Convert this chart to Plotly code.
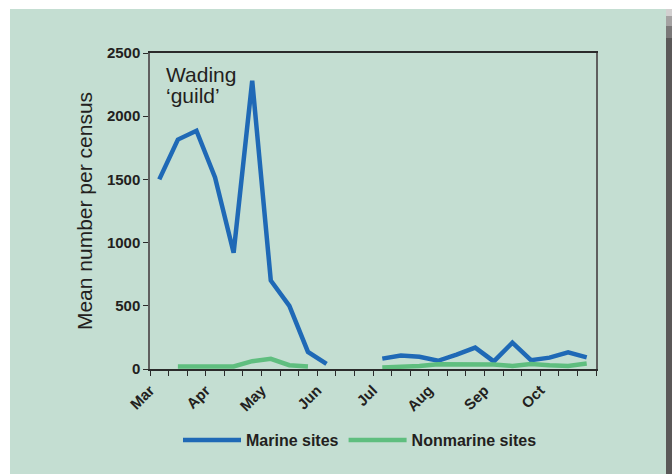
import plotly.graph_objects as go

# ---------------- data ----------------
months = ["Mar", "Apr", "May", "Jun", "Jul", "Aug", "Sep", "Oct"]
periods_per_month = 3  # census periods (≈10 days) per month
marine = [1500, 1815, 1885, 1515, 920, 2280, 700, 500, 135, 40, None, None,
          82, 107, 97, 65, 113, 169, 60, 208, 70, 90, 132, 92]
nonmarine = [None, 20, 20, 20, 20, 62, 80, 30, 20, None, None, None,
             12, 16, 24, 38, 39, 39, 36, 24, 40, 30, 24, 43]
y_ticks = [0, 500, 1000, 1500, 2000, 2500]
series_names = ["Marine sites", "Nonmarine sites"]

# ---------------- layout helpers ----------------
W, H = 672, 474
L, R, T, B = 150, 596, 53, 369  # plot area in pixels


def px(xp):
    return (xp - L) / (R - L)


def py(yp):
    return (B - yp) / (B - T)


n = len(months) * periods_per_month
x_centers = [i + 0.5 for i in range(n)]
tickvals = list(range(n + 1))
ticktext = [months[i // periods_per_month] if i % periods_per_month == 0 and i // periods_per_month < len(months) else ""
            for i in tickvals]

BLUE = "#1f69b6"
GREEN = "#5fbe7f"
BG = "#c4ded2"
AX = "#2b2b2b"
FONT = "Liberation Sans, Arial, sans-serif"

fig = go.Figure()
fig.add_trace(go.Scatter(x=x_centers, y=marine, mode="lines", name=series_names[0],
                         line=dict(color=BLUE, width=4.5), connectgaps=False))
fig.add_trace(go.Scatter(x=x_centers, y=nonmarine, mode="lines", name=series_names[1],
                         line=dict(color=GREEN, width=4.5), connectgaps=False))


def rect(x0, x1, y0, y1, color):
    return dict(type="rect", xref="paper", yref="paper", x0=px(x0), x1=px(x1), y0=py(y1), y1=py(y0),
                fillcolor=color, line=dict(width=0), layer="below")


shapes = [
    rect(0, W, 0, 9, "white"),
    rect(0, 10, 0, H, "white"),
    rect(10, 666, 9, H, BG),
    rect(666, W, 9, 16, "#d2d0d0"),
    rect(666, W, 16, 26, "#a4a2a2"),
    rect(666, W, 26, 38, "#7a7878"),
]

fig.update_layout(
    width=W, height=H,
    margin=dict(l=L, r=W - R, t=T, b=H - B, pad=0),
    paper_bgcolor="#5a5858",
    plot_bgcolor="rgba(0,0,0,0)",
    font=dict(family=FONT, color="#231f20"),
    shapes=shapes,
    showlegend=True,
    legend=dict(orientation="h", xanchor="center", x=px(360), yanchor="middle", y=py(440),
                font=dict(family=FONT, size=16, weight="bold", color="#231f20"),
                bgcolor="rgba(0,0,0,0)", itemwidth=58, tracegroupgap=0),
    xaxis=dict(range=[0, n], tickmode="array", tickvals=tickvals, ticktext=ticktext,
               tickangle=-45, ticks="outside", ticklen=5, tickcolor=AX, tickwidth=1,
               showline=True, linecolor=AX, linewidth=1.5, mirror=True,
               showgrid=False, zeroline=False,
               tickfont=dict(family=FONT, size=15, weight="bold", color="#231f20")),
    xaxis2=dict(range=[0, n], overlaying="x", anchor="y", side="bottom", tickmode="array",
                tickvals=tickvals, ticks="inside", ticklen=4, tickcolor=AX, tickwidth=1,
                showticklabels=False, showline=False, showgrid=False, zeroline=False),
    yaxis=dict(range=[0, 2500], tickmode="array", tickvals=y_ticks, ticks="outside", ticklen=5,
               tickcolor=AX, tickwidth=1, showline=True, linecolor="#5f5f5f", linewidth=1.5,
               mirror=True, showgrid=False, zeroline=False,
               tickfont=dict(family=FONT, size=15, weight="bold", color="#231f20"),
               title=dict(text="Mean number per census", standoff=9,
                          font=dict(family=FONT, size=21, color="#231f20"))),
    annotations=[
        dict(text="Wading", xref="paper", yref="paper", x=px(164), y=py(74.5), xanchor="left",
             yanchor="middle", showarrow=False, font=dict(family=FONT, size=21, color="#231f20")),
        dict(text="\u2018guild\u2019", xref="paper", yref="paper", x=px(164), y=py(96), xanchor="left",
             yanchor="middle", showarrow=False, font=dict(family=FONT, size=21, color="#231f20")),
    ],
)

fig.write_html("out.html", config={"displayModeBar": False},
               post_script="document.body.style.margin='0';document.body.style.overflow='hidden';")
